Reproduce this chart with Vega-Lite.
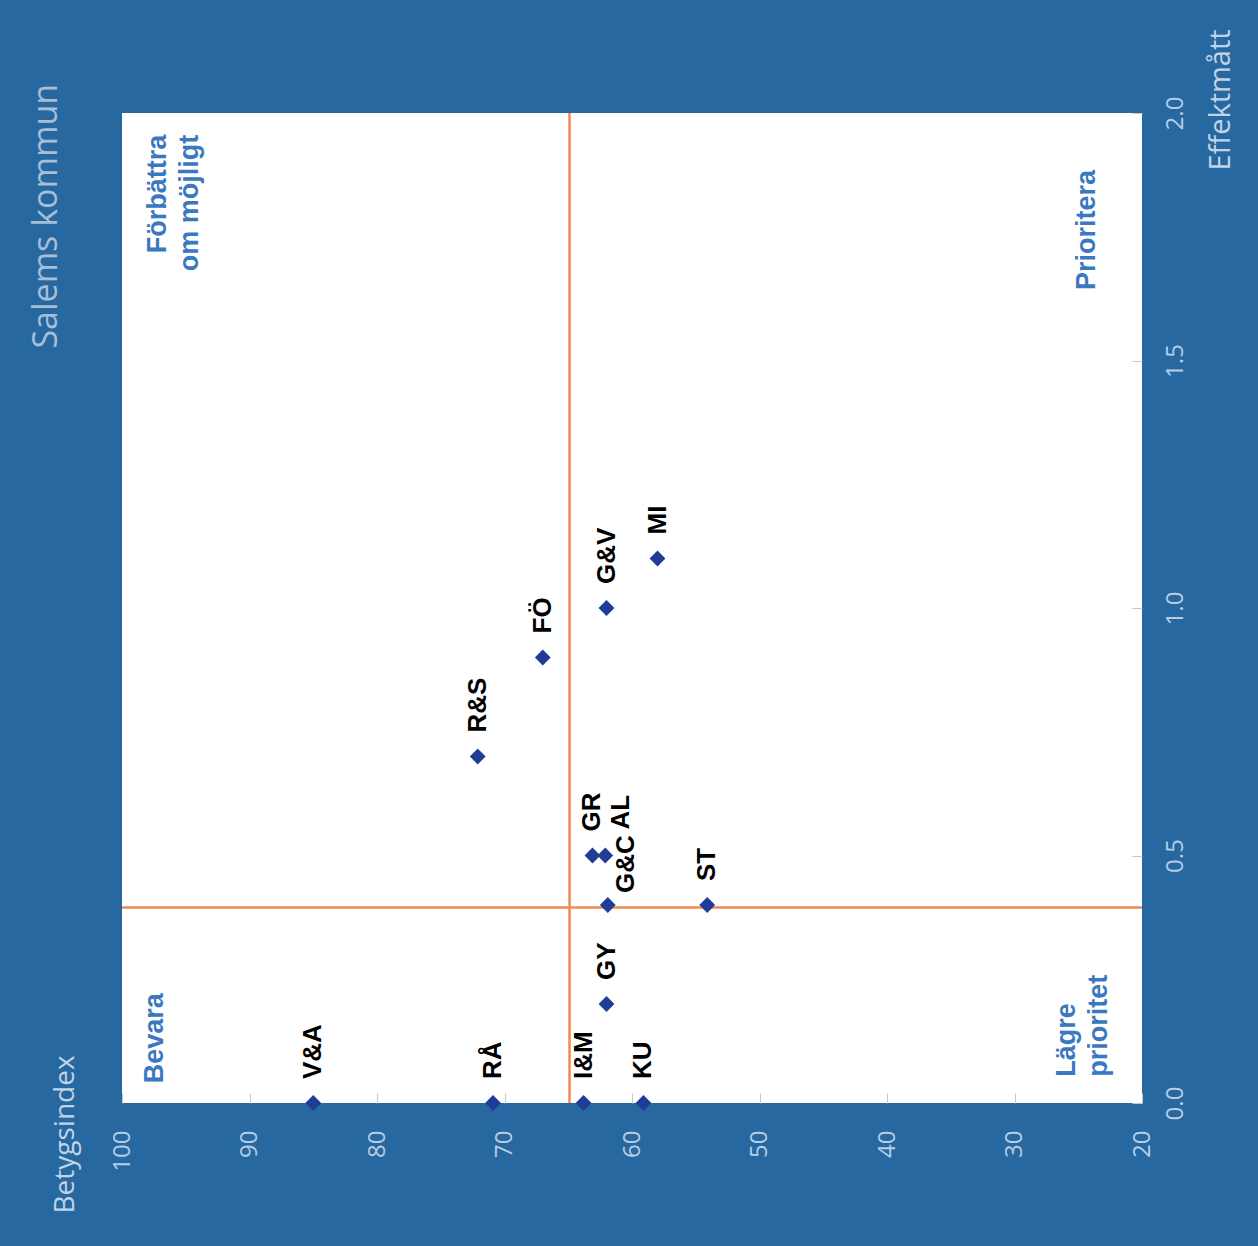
{
  "$schema": "https://vega.github.io/schema/vega-lite/v6.json",
  "autosize": "none",
  "width": 1020,
  "height": 990,
  "padding": {"left": 122, "top": 113, "right": 116, "bottom": 143},
  "background": "#2868a0",
  "config": {"view": {"fill": "white", "stroke": null}, "font": "Open Sans"},
  "title": {"text": "Salems kommun", "orient": "left", "anchor": "end", "fontSize": 34, "font": "Open Sans", "fontWeight": "normal", "color": "#a6bfd9", "offset": -13, "dx": -55},
  "datasets": {
    "points": [
      {"label": "V&A", "betyg": 85.0, "effekt": 0.0},
      {"label": "RÅ", "betyg": 70.9, "effekt": 0.0},
      {"label": "I&M", "betyg": 63.8, "effekt": 0.0},
      {"label": "KU", "betyg": 59.1, "effekt": 0.0},
      {"label": "GY", "betyg": 62.0, "effekt": 0.2},
      {"label": "G&C", "betyg": 61.9, "effekt": 0.4},
      {"label": "ST", "betyg": 54.1, "effekt": 0.4},
      {"label": "GR", "betyg": 63.1, "effekt": 0.5},
      {"label": "AL", "betyg": 62.1, "effekt": 0.5},
      {"label": "R&S", "betyg": 72.1, "effekt": 0.7},
      {"label": "FÖ", "betyg": 67.0, "effekt": 0.9},
      {"label": "G&V", "betyg": 62.0, "effekt": 1.0},
      {"label": "MI", "betyg": 58.0, "effekt": 1.1}
    ]
  },
  "layer": [
    {
      "data": {"values": [{"betyg": 64.9}]},
      "mark": {"type": "rule", "color": "#f08a52", "strokeWidth": 2.5},
      "encoding": {"x": {"field": "betyg", "type": "quantitative", "title": "Betygsindex"}}
    },
    {
      "data": {"values": [{"effekt": 0.395}]},
      "mark": {"type": "rule", "color": "#f08a52", "strokeWidth": 2.5},
      "encoding": {"y": {"field": "effekt", "type": "quantitative", "title": "Effektmått"}}
    },
    {
      "data": {"name": "points"},
      "mark": {"type": "point", "shape": "diamond", "filled": true, "color": "#1f3d96", "size": 250, "opacity": 1},
      "encoding": {
        "x": {
          "field": "betyg", "type": "quantitative", "title": "Betygsindex",
          "scale": {"domain": [20, 100], "reverse": true, "nice": false, "zero": false},
          "axis": {
            "values": [20, 30, 40, 50, 60, 70, 80, 90, 100],
            "labelAngle": 270, "labelAlign": "right", "labelBaseline": "middle",
            "labelPadding": 37, "labelFontSize": 24, "labelColor": "#b5cee6", "labelFont": "Open Sans",
            "tickSize": -10, "tickColor": "#c8c8c8", "tickWidth": 1,
            "domain": false, "grid": false,
            "titleAngle": 270, "titleAlign": "left", "titleBaseline": "middle",
            "titleX": -57, "titleY": 110, "titleFontSize": 28, "titleFontWeight": "normal",
            "titleColor": "#c0d4e8", "titleFont": "Open Sans"
          }
        },
        "y": {
          "field": "effekt", "type": "quantitative", "title": "Effektmått",
          "scale": {"domain": [0, 2], "nice": false},
          "axis": {
            "orient": "right",
            "values": [0, 0.5, 1, 1.5, 2], "format": ".1f",
            "labelAngle": 270, "labelAlign": "center", "labelBaseline": "middle",
            "labelPadding": 43, "labelFontSize": 24, "labelColor": "#b5cee6", "labelFont": "Open Sans",
            "tickSize": -10, "tickColor": "#c8c8c8", "tickWidth": 1,
            "domain": false, "grid": false,
            "titleAngle": 270, "titleAlign": "left", "titleBaseline": "middle",
            "titleX": 78, "titleY": 57, "titleFontSize": 29, "titleFontWeight": "normal",
            "titleColor": "#c0d4e8", "titleFont": "Open Sans"
          }
        }
      }
    },
    {
      "data": {"name": "points"},
      "transform": [{"filter": "datum.label != 'AL' && datum.label != 'G&C'"}],
      "mark": {"type": "text", "angle": 270, "align": "left", "baseline": "middle", "dx": 24, "font": "Liberation Sans", "fontWeight": "bold", "fontSize": 26, "color": "black"},
      "encoding": {
        "x": {"field": "betyg", "type": "quantitative", "title": "Betygsindex"},
        "y": {"field": "effekt", "type": "quantitative", "title": "Effektmått"},
        "text": {"field": "label"}
      }
    },
    {
      "data": {"name": "points"},
      "transform": [{"filter": "datum.label == 'AL'"}],
      "mark": {"type": "text", "angle": 270, "align": "left", "baseline": "middle", "dx": 26, "dy": 16, "font": "Liberation Sans", "fontWeight": "bold", "fontSize": 26, "color": "black"},
      "encoding": {
        "x": {"field": "betyg", "type": "quantitative", "title": "Betygsindex"},
        "y": {"field": "effekt", "type": "quantitative", "title": "Effektmått"},
        "text": {"field": "label"}
      }
    },
    {
      "data": {"name": "points"},
      "transform": [{"filter": "datum.label == 'G&C'"}],
      "mark": {"type": "text", "angle": 270, "align": "left", "baseline": "middle", "dx": 12, "dy": 18, "font": "Liberation Sans", "fontWeight": "bold", "fontSize": 26, "color": "black"},
      "encoding": {
        "x": {"field": "betyg", "type": "quantitative", "title": "Betygsindex"},
        "y": {"field": "effekt", "type": "quantitative", "title": "Effektmått"},
        "text": {"field": "label"}
      }
    },
    {
      "data": {"values": [
        {"text": ["Förbättra", "om möjligt"], "betyg": 97.2, "effekt": 1.956},
        {"text": ["Prioritera"], "betyg": 24.3, "effekt": 1.885}
      ]},
      "mark": {"type": "text", "angle": 270, "align": "right", "baseline": "middle", "lineHeight": 32, "font": "Liberation Sans", "fontWeight": "bold", "fontSize": 27, "color": "#3a78c0"},
      "encoding": {
        "x": {"field": "betyg", "type": "quantitative", "title": "Betygsindex"},
        "y": {"field": "effekt", "type": "quantitative", "title": "Effektmått"},
        "text": {"field": "text"}
      }
    },
    {
      "data": {"values": [
        {"text": ["Bevara"], "betyg": 97.4, "effekt": 0.04},
        {"text": ["Lägre", "prioritet"], "betyg": 25.9, "effekt": 0.053}
      ]},
      "mark": {"type": "text", "angle": 270, "align": "left", "baseline": "middle", "lineHeight": 32, "font": "Liberation Sans", "fontWeight": "bold", "fontSize": 27, "color": "#3a78c0"},
      "encoding": {
        "x": {"field": "betyg", "type": "quantitative", "title": "Betygsindex"},
        "y": {"field": "effekt", "type": "quantitative", "title": "Effektmått"},
        "text": {"field": "text"}
      }
    }
  ]
}
